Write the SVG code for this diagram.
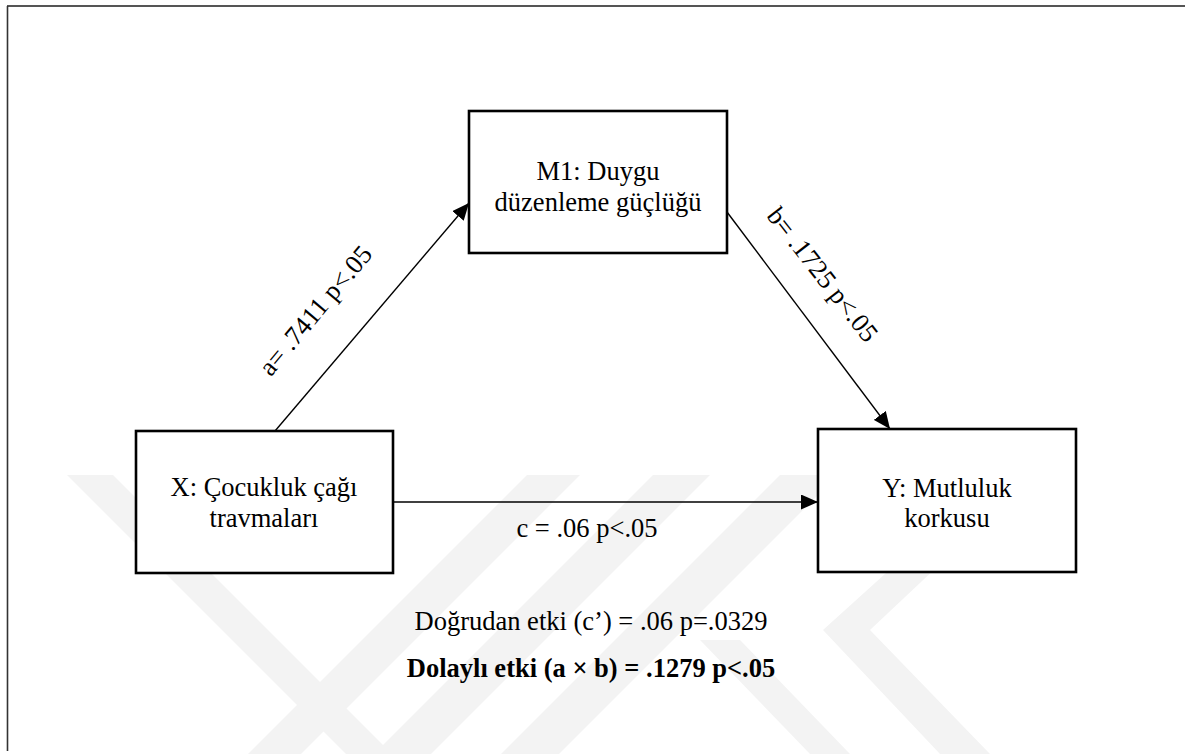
<svg xmlns="http://www.w3.org/2000/svg" width="1185" height="754" viewBox="0 0 1185 754">
<style>
.box{fill:#fff;stroke:#000;stroke-width:2.6}
.t{font-family:"Liberation Serif","Times New Roman",serif;font-size:26.5px;fill:#000}
.c{text-anchor:middle}
.conn{stroke:#000;stroke-width:1.4;fill:none}
.wm{fill:#f3f3f3}
</style>
<defs>
<marker id="ah" markerUnits="userSpaceOnUse" markerWidth="18" markerHeight="15" refX="17" refY="7.5" orient="auto">
<path d="M0,0 L17,7.5 L0,15 Z" fill="#000"/>
</marker>
</defs>
<rect width="1185" height="754" fill="#fff"/>
<g id="watermark">
<polygon class="wm" points="67,475 113,475 392,754 346,754"/>
<polygon class="wm" points="527,475 580,475 301,754 248,754"/>
<polygon class="wm" points="653,475 710,475 431,754 374,754"/>
<polygon class="wm" points="780,475 838,475 559,754 501,754"/>
<polygon class="wm" points="1000,470 1040,470 870,630 990,754 940,754 823,630"/>
<polygon class="wm" points="700,640 740,640 850,754 810,754"/>
</g>
<g id="frame">
<line x1="7" y1="6" x2="1185" y2="6" stroke="#555" stroke-width="2"/>
<line x1="7.5" y1="6" x2="7.5" y2="751" stroke="#333" stroke-width="1.6"/>
</g>
<g id="connectors">
<line class="conn" x1="275" y1="431" x2="469" y2="203" marker-end="url(#ah)"/>
<line class="conn" x1="727" y1="212" x2="890" y2="429" marker-end="url(#ah)"/>
<line class="conn" x1="393" y1="502" x2="818" y2="502" marker-end="url(#ah)"/>
<text class="t c" transform="translate(316,311) rotate(-50)" y="8">a= .7411 p&lt;.05</text>
<text class="t c" transform="translate(822,275) rotate(52)" y="8">b= .1725 p&lt;.05</text>
<text class="t c" x="587" y="537">c = .06 p&lt;.05</text>
</g>
<g id="node-m1">
<rect class="box" x="469" y="111" width="258" height="142"/>
<text class="t c" x="598" y="180">M1: Duygu</text>
<text class="t c" x="598" y="211">düzenleme güçlüğü</text>
</g>
<g id="node-x">
<rect class="box" x="136" y="431" width="257" height="142"/>
<text class="t c" x="264" y="496">X: Çocukluk çağı</text>
<text class="t c" x="264" y="527">travmaları</text>
</g>
<g id="node-y">
<rect class="box" x="818" y="429" width="258" height="143"/>
<text class="t c" x="947" y="497">Y: Mutluluk</text>
<text class="t c" x="947" y="527">korkusu</text>
</g>
<g id="results">
<text class="t c" x="591" y="630">Doğrudan etki (c’) = .06 p=.0329</text>
<text class="t c" x="591" y="677" font-weight="bold">Dolaylı etki (a × b) = .1279 p&lt;.05</text>
</g>
</svg>
